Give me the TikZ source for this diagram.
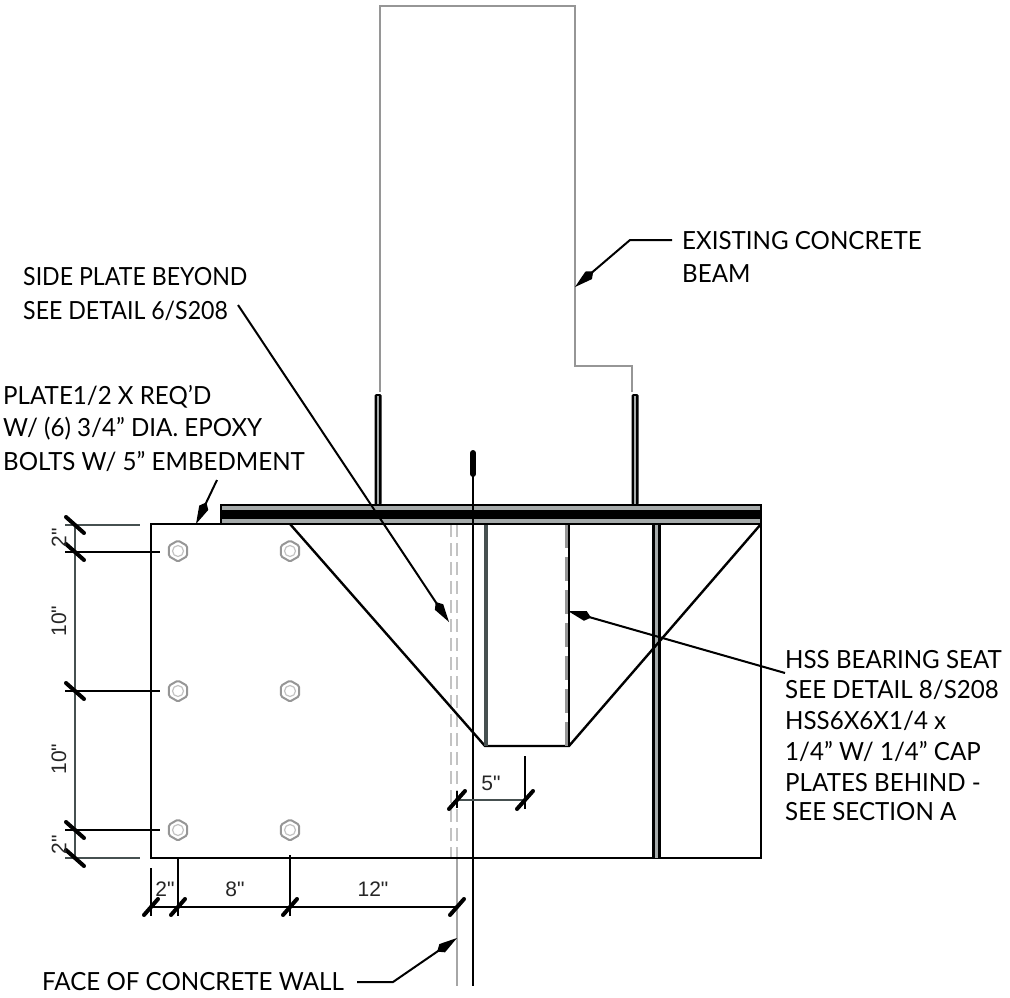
\documentclass[tikz,border=0pt]{standalone}
\usepackage{fontspec}
\setmainfont[FakeStretch=0.965]{Lato}
\newfontfamily\narrownote[FakeStretch=0.925]{Lato}
\newfontfamily\dimfont{Liberation Sans}
\usetikzlibrary{arrows.meta,shapes.geometric}
\definecolor{steelgray}{RGB}{165,170,170}
\definecolor{beamgray}{RGB}{150,150,150}
\definecolor{dashgray}{RGB}{195,195,195}
\definecolor{darkdim}{RGB}{70,80,80}
\tikzset{
  note/.style={anchor=west,inner sep=0pt,font=\fontsize{25}{25}\selectfont,text=black},
  narrow note/.style={note,font=\narrownote\fontsize{25}{25}\selectfont},
  dimlabel/.style={inner sep=0pt,font=\dimfont\fontsize{21}{21}\selectfont,text=black!85},
  objline/.style={draw=black,line width=2.2pt},
  dimline/.style={draw=black,line width=2.2pt},
  extline/.style={draw=black,line width=2pt},
  tick/.style={draw=black,line width=4pt,line cap=round},
  leader/.style={draw=black,line width=2pt,-{Kite[length=24pt,width=10pt,inset=6pt]}},
  beamline/.style={draw=beamgray,line width=1.8pt},
  boltshape/.style={regular polygon,regular polygon sides=6,shape border rotate=30,minimum size=21pt,inner sep=0pt,draw=beamgray,line width=2pt,rounded corners=1.5pt,fill=white},
  boltcore/.style={circle,minimum size=11pt,inner sep=0pt,draw=dashgray,line width=1.2pt},
  hiddenline/.style={draw=dashgray,line width=1.4pt,dash pattern=on 13pt off 6pt},
}
\begin{document}
\begin{tikzpicture}[x=1pt,y=-1pt]
\useasboundingbox (0,0) rectangle (1010,998);

% beam
\draw[beamline] (380,392) -- (380,6) -- (575,6) -- (575,366) -- (632,366) -- (632,392);

% upright plates
\foreach \px in {378,635}{
  \fill[black,rounded corners=1.5pt] (\px-3.5,394) rectangle (\px+3.5,505);
  \fill[steelgray] (\px-1.2,396) rectangle (\px+1.2,505);
}

% hidden wall face lines
\draw[hiddenline] (451,524) -- (451,858);
\draw[hiddenline] (457,524) -- (457,858);
\draw[draw=dashgray!85!black,line width=1.8pt] (457,858) -- (457,986);

% main plate
\draw[objline] (151,524) rectangle (761,858);

% stiffener
\fill[steelgray] (653,524) rectangle (660,858);
\draw[draw=black,line width=2.4pt] (653.5,524) -- (653.5,858);
\draw[draw=black,line width=2.4pt] (659.5,524) -- (659.5,858);

% gusset
\draw[draw=black,line width=2.4pt] (290,524) -- (485,746) -- (569,746) -- (761,524);

% HSS walls
\draw[draw=darkdim,line width=3.2pt] (486,524) -- (486,746);
\draw[draw=black,line width=2pt] (569,524) -- (569,746);
\draw[draw=beamgray,line width=3pt,dash pattern=on 24pt off 9pt] (566.5,524) -- (566.5,746);

% top plate
\fill[black] (220,504) rectangle (762,524.5);
\fill[steelgray] (222,506) rectangle (760,509.5);
\fill[steelgray] (222,519) rectangle (760,522.5);

% centre line
\draw[draw=black,line width=2pt] (472.5,476) -- (472.5,986);
\draw[draw=black,line width=6pt,line cap=round] (473,453) -- (473,474);

% bolts
\foreach \bx/\by/\bn in {178/551/a,290/551/b,178/691/c,290/691/d,178/830/e,290/830/f}{
  \node[boltshape] (bolt\bn) at (\bx,\by) {};
  \node[boltcore] at (\bx,\by) {};
}

% notes
\node[narrow note] (sideA) at (23,277) {SIDE PLATE BEYOND};
\node[narrow note] (sideB) at (23,311) {SEE DETAIL 6/S208};
\node[note] (plateA) at (3,397) {PLATE1/2 X REQ’D};
\node[note] (plateB) at (3,429) {W/ (6) 3/4” DIA. EPOXY};
\node[note] (plateC) at (3,462) {BOLTS W/ 5” EMBEDMENT};
\node[note] (beamA) at (682,241) {EXISTING CONCRETE};
\node[note] (beamB) at (682,274) {BEAM};
\node[note] (hssA) at (785,660) {HSS BEARING SEAT};
\node[note] (hssB) at (785,690) {SEE DETAIL 8/S208};
\node[note] (hssC) at (785,721) {HSS6X6X1/4 x};
\node[note] (hssD) at (785,752) {1/4” W/ 1/4” CAP};
\node[note] (hssE) at (785,783) {PLATES BEHIND -};
\node[note] (hssF) at (785,812) {SEE SECTION A};
\node[note] (wall) at (42,982) {FACE OF CONCRETE WALL};

% leaders
\coordinate (sideStart) at (238,305);
\coordinate (sideTip) at (449,622);
\coordinate (plateStart) at (217,480);
\coordinate (plateTip) at (196,524);
\coordinate (beamStart) at (672,240);
\coordinate (beamBend) at (630,240);
\coordinate (beamTip) at (575,287);
\coordinate (hssStart) at (785,673);
\coordinate (hssTip) at (568,611);
\coordinate (wallStart) at (357,982);
\coordinate (wallBend) at (393,982);
\coordinate (wallTip) at (457,938);
\draw[leader] (sideStart) -- (sideTip);
\draw[leader] (plateStart) -- (plateTip);
\draw[leader] (beamStart) -- (beamBend) -- (beamTip);
\draw[leader] (hssStart) -- (hssTip);
\draw[leader] (wallStart) -- (wallBend) -- (wallTip);

% vertical dimension
\coordinate (vA) at (75,525);
\coordinate (vB) at (75,552);
\coordinate (vC) at (75,691);
\coordinate (vD) at (75,830);
\coordinate (vE) at (75,858);
\draw[dimline,draw=darkdim] (vA) -- (vE);
\draw[extline,draw=darkdim] (vA) ++(-10,0) -- (140,525);
\draw[extline] (vB) ++(-10,0) -- (160,552);
\draw[extline] (vC) ++(-10,0) -- (160,691);
\draw[extline] (vD) ++(-10,0) -- (160,830);
\draw[extline,draw=darkdim] (vE) ++(-10,0) -- (140,858);
\foreach \c in {vA,vB,vC,vD,vE}{
  \draw[tick] (\c) ++(-9,-8) -- ++(18,16);
}

% horizontal dimension
\coordinate (hA) at (151,907);
\coordinate (hB) at (178,907);
\coordinate (hC) at (290,907);
\coordinate (hD) at (457,907);
\draw[dimline] (hA) -- (hD);
\draw[extline] (hA) ++(0,-39) -- ++(0,48);
\draw[extline] (hB) ++(0,-50) -- ++(0,59);
\draw[extline] (hC) ++(0,-52) -- ++(0,61);
\foreach \c in {hA,hB,hC,hD}{
  \draw[tick] (\c) ++(-7,8) -- ++(14,-16);
}

% 5 inch dimension
\coordinate (fA) at (457,800);
\coordinate (fB) at (525,800);
\draw[dimline,draw=darkdim] (fA) -- (fB);
\draw[extline] (fB) ++(0,-44) -- ++(0,53);
\draw[extline] (fA) ++(0,-9) -- ++(0,17);
\foreach \c in {fA,fB}{
  \draw[tick] (\c) ++(-8,9) -- ++(16,-18);
}

% dimension texts
\node[dimlabel,rotate=90] (dimA) at (59,538) {2"};
\node[dimlabel,rotate=90] (dimB) at (59,621) {10"};
\node[dimlabel,rotate=90] (dimC) at (59,759) {10"};
\node[dimlabel,rotate=90] (dimD) at (59,845) {2"};
\node[dimlabel] (dimE) at (165,889) {2"};
\node[dimlabel] (dimF) at (235,889) {8"};
\node[dimlabel] (dimG) at (373,889) {12"};
\node[dimlabel] (dimH) at (491,783) {5"};
\end{tikzpicture}
\end{document}
